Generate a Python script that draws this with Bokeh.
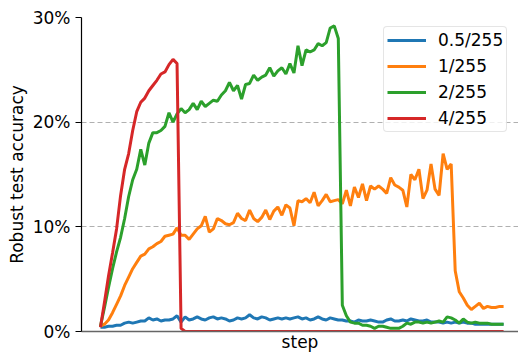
from bokeh.plotting import figure
from bokeh.models import Legend, LegendItem, FixedTicker, PrintfTickFormatter, Range1d
from bokeh.embed import file_html
from bokeh.resources import INLINE

# Robust test accuracy (%) per logged step, one curve per training epsilon
steps = list(range(101))

acc_05 = [0.4, 0.4, 0.5, 0.5, 0.6, 0.6, 0.8, 0.9, 0.8, 0.9,
          1.0, 1.0, 1.3, 1.1, 1.2, 1.0, 1.1, 1.1, 1.2, 1.5,
          0.9, 1.4, 1.1, 1.2, 1.4, 1.2, 1.1, 1.3, 1.4, 1.2,
          1.3, 1.2, 1.0, 1.1, 1.3, 1.2, 1.3, 1.6, 1.3, 1.2,
          1.4, 1.3, 1.1, 1.2, 1.3, 1.2, 1.3, 1.2, 1.3, 1.4,
          1.2, 1.3, 1.1, 1.2, 1.4, 1.2, 1.1, 1.3, 1.2, 1.1,
          1.1, 1.0, 1.0, 0.9, 1.1, 1.0, 1.0, 1.1, 1.0, 0.9,
          0.9, 1.1, 1.2, 1.0, 1.0, 1.1, 1.0, 1.2, 1.1, 1.0,
          1.0, 1.1, 0.9, 0.9, 0.9, 0.8, 0.9, 0.8, 0.9, 0.8,
          0.9, 0.8, 0.8, 0.7, 0.7, 0.7, 0.7, 0.7, 0.7, 0.7,
          0.7]

acc_1 = [0.5, 0.7, 1.1, 1.8, 2.6, 3.4, 4.4, 5.2, 6.0, 6.6,
         7.2, 7.4, 7.9, 8.1, 8.4, 8.6, 9.1, 9.2, 9.3, 9.9,
         9.2, 9.2, 8.8, 9.3, 9.8, 10.1, 11.0, 9.5, 9.8, 10.8,
         10.6, 10.3, 10.2, 10.4, 11.3, 10.8, 10.6, 11.6, 10.8, 10.5,
         10.9, 11.6, 10.7, 11.5, 11.9, 11.1, 12.1, 11.8, 10.1, 12.5,
         12.4, 12.7, 12.3, 13.3, 12.0, 12.5, 13.1, 12.4, 12.5, 12.6,
         12.2, 13.5, 12.0, 13.8, 12.8, 14.1, 12.5, 13.9, 13.6, 13.9,
         13.6, 13.2, 14.7, 14.0, 13.8, 13.5, 11.9, 15.0, 14.5, 15.5,
         12.7, 13.5, 16.0, 13.6, 13.0, 17.0, 15.5, 16.0, 5.8, 3.8,
         3.2, 2.5, 2.1, 2.4, 2.7, 2.2, 2.4, 2.3, 2.3, 2.4,
         2.4]

acc_2 = [0.5, 2.3, 4.2, 6.0, 7.6, 9.0, 10.8, 12.9, 14.5, 15.5,
         17.4, 15.9, 18.0, 19.0, 19.0, 19.2, 19.6, 20.9, 20.0, 20.8,
         21.3, 20.9, 21.2, 21.8, 21.2, 22.0, 21.5, 21.8, 22.1, 22.0,
         22.6, 23.0, 23.8, 23.0, 23.5, 22.2, 23.6, 23.7, 24.5, 24.0,
         24.3, 24.5, 25.2, 24.4, 24.9, 25.2, 24.6, 25.6, 24.7, 27.3,
         25.4, 26.9, 26.7, 26.9, 27.5, 27.3, 27.6, 29.0, 29.2, 28.0,
         2.5, 1.5, 0.9, 0.8, 0.8, 0.6, 0.6, 0.5, 0.3, 0.5,
         0.5, 0.4, 0.3, 0.3, 0.3, 0.5, 0.8, 0.7, 0.9, 0.9,
         0.8, 0.9, 0.8, 0.9, 1.0, 0.9, 1.4, 1.3, 1.1, 0.8,
         1.2, 0.9, 0.8, 0.9, 0.8, 0.8, 0.8, 0.7, 0.7, 0.7,
         0.7]

acc_4 = [0.4, 2.8, 5.3, 7.5, 9.8, 13.0, 15.5, 17.0, 19.2, 21.0,
         21.9, 22.3, 23.0, 23.5, 24.0, 24.6, 24.8, 25.5, 26.0, 25.6,
         0.3] + [0.0] * 80

labels = ["0.5/255", "1/255", "2/255", "4/255"]
colors = ["#1f77b4", "#ff7f0e", "#2ca02c", "#d62728"]
series = [acc_05, acc_1, acc_2, acc_4]

y_ticks = [0, 10, 20, 30]

FONT = "DejaVu Sans"
FS = "17px"

p = figure(width=518, height=354, output_backend="svg", toolbar_location=None,
           x_range=Range1d(-4.7, 103.7), y_range=Range1d(0, 30),
           min_border_left=81, min_border_right=0, min_border_top=17,
           min_border_bottom=21)
p.outline_line_color = None
p.background_fill_color = "white"
p.border_fill_color = "white"

# x axis: only the spine and the label
p.xaxis.ticker = FixedTicker(ticks=[])
p.xaxis.major_tick_line_color = None
p.xaxis.minor_tick_line_color = None
p.xaxis.major_tick_out = 0
p.xaxis.axis_line_color = "#666666"
p.xaxis.axis_line_width = 1.3
p.xaxis.axis_label = "step"
p.xaxis.axis_label_standoff = 0
p.xaxis.axis_label_text_font = FONT
p.xaxis.axis_label_text_font_size = FS
p.xaxis.axis_label_text_font_style = "normal"
p.xaxis.axis_label_text_color = "black"

# y axis in percent
p.yaxis.ticker = FixedTicker(ticks=y_ticks)
p.yaxis.formatter = PrintfTickFormatter(format="%d%%")
p.yaxis.minor_tick_line_color = None
p.yaxis.major_tick_in = 0
p.yaxis.major_tick_out = 6
p.yaxis.major_tick_line_color = "black"
p.yaxis.axis_line_color = "black"
p.yaxis.axis_line_width = 1.2
p.yaxis.major_label_standoff = 5
p.yaxis.major_label_text_font = FONT
p.yaxis.major_label_text_font_size = FS
p.yaxis.major_label_text_color = "black"
p.yaxis.axis_label = "Robust test accuracy"
p.yaxis.axis_label_standoff = 3
p.yaxis.axis_label_text_font = FONT
p.yaxis.axis_label_text_font_size = FS
p.yaxis.axis_label_text_font_style = "normal"
p.yaxis.axis_label_text_color = "black"

p.xgrid.grid_line_color = None
p.ygrid.grid_line_color = "#b0b0b0"
p.ygrid.grid_line_dash = "5 3"
p.ygrid.grid_line_width = 1.2

items = []
for lab, col, ys in zip(labels, colors, series):
    r = p.line(steps, ys, line_color=col, line_width=3)
    items.append(LegendItem(label=lab, renderers=[r]))

legend = Legend(items=items, location=(302, 199))
legend.label_text_font = FONT
legend.label_text_font_size = FS
legend.label_text_color = "black"
legend.glyph_width = 39
legend.glyph_height = 18
legend.label_height = 18
legend.spacing = 6
legend.padding = 3
legend.margin = 0
legend.label_standoff = 12
legend.border_line_color = "#cccccc"
legend.border_line_width = 1.3
legend.background_fill_color = "white"
legend.background_fill_alpha = 0.8
legend.border_radius = 4
p.add_layout(legend, "center")

open("out.html", "w").write(file_html(p, INLINE))
